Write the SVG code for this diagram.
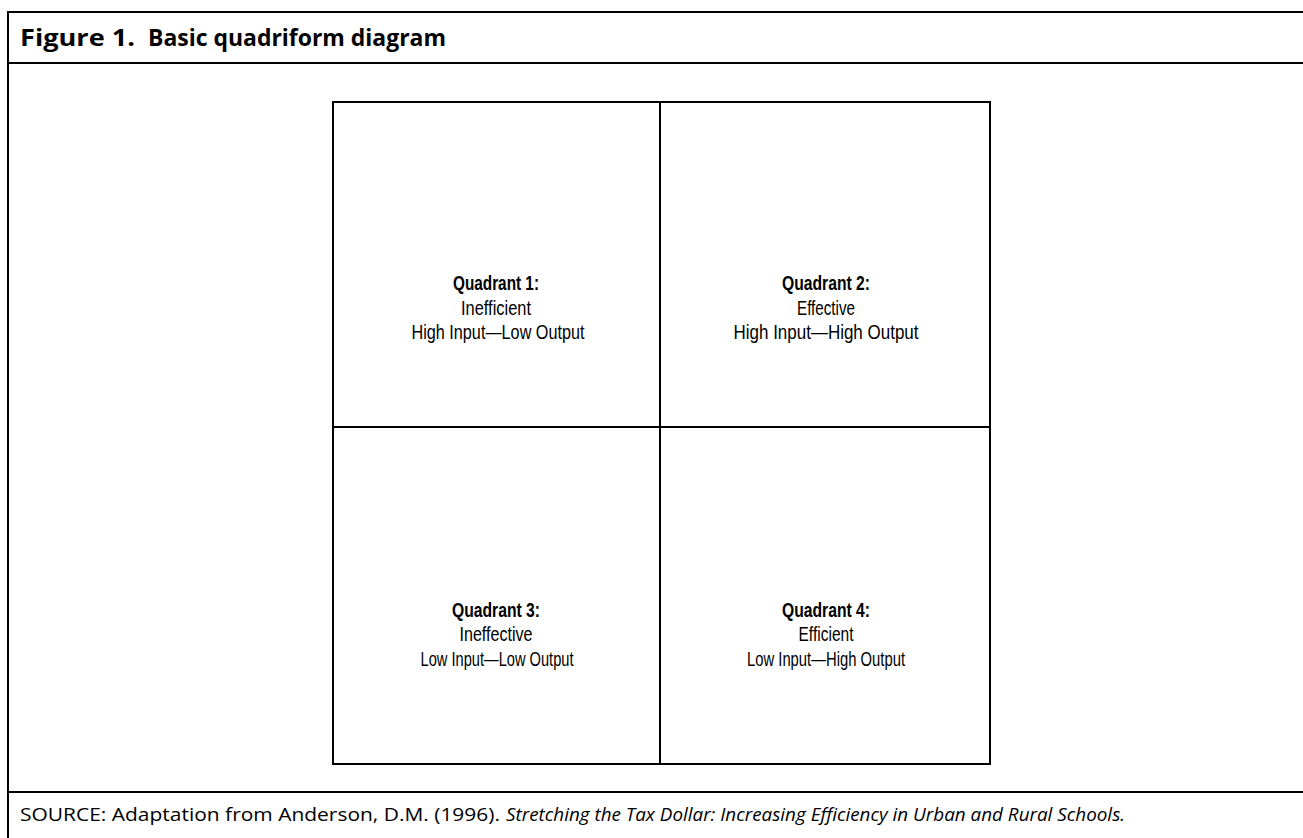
<svg xmlns="http://www.w3.org/2000/svg" width="1303" height="838" viewBox="0 0 1303 838">
<style>
.frame{stroke:#000;stroke-width:2;fill:none}
.grid{stroke:#000;stroke-width:2;fill:none}
.title{font-family:"Open Sans","Liberation Sans",sans-serif;font-weight:bold;font-size:23px;fill:#000}
.src{font-family:"Open Sans","Liberation Sans",sans-serif;font-size:18px;fill:#000}
.qh{font-family:"Liberation Sans",sans-serif;font-weight:bold;font-size:20px;fill:#000;text-anchor:middle}
.qt{font-family:"Liberation Sans",sans-serif;font-size:20px;fill:#000;text-anchor:middle}
</style>
<rect width="1303" height="838" fill="#fff"/>
<g id="frame">
<line class="frame" x1="8" y1="12" x2="1303" y2="12"/>
<line class="frame" x1="8" y1="63" x2="1303" y2="63"/>
<line class="frame" x1="8" y1="792" x2="1303" y2="792"/>
<line class="frame" x1="8" y1="11" x2="8" y2="838"/>
</g>
<g id="title">
<text class="title" x="20" y="46" textLength="115" lengthAdjust="spacingAndGlyphs">Figure 1.</text>
<text class="title" x="148" y="46" textLength="298" lengthAdjust="spacingAndGlyphs">Basic quadriform diagram</text>
</g>
<g id="connectors">
<rect class="grid" x="333" y="102" width="657" height="662"/>
<line class="grid" x1="660" y1="102" x2="660" y2="764"/>
<line class="grid" x1="333" y1="427" x2="990" y2="427"/>
</g>
<g id="q1">
<text class="qh" x="496" y="290" textLength="86" lengthAdjust="spacingAndGlyphs">Quadrant 1:</text>
<text class="qt" x="496" y="315" textLength="70" lengthAdjust="spacingAndGlyphs">Inefficient</text>
<text class="qt" x="498" y="339" textLength="173" lengthAdjust="spacingAndGlyphs">High Input—Low Output</text>
</g>
<g id="q2">
<text class="qh" x="826" y="290" textLength="88" lengthAdjust="spacingAndGlyphs">Quadrant 2:</text>
<text class="qt" x="826" y="315" textLength="58" lengthAdjust="spacingAndGlyphs">Effective</text>
<text class="qt" x="826" y="339" textLength="185" lengthAdjust="spacingAndGlyphs">High Input—High Output</text>
</g>
<g id="q3">
<text class="qh" x="496" y="617" textLength="88" lengthAdjust="spacingAndGlyphs">Quadrant 3:</text>
<text class="qt" x="496" y="641" textLength="73" lengthAdjust="spacingAndGlyphs">Ineffective</text>
<text class="qt" x="497" y="666" textLength="153" lengthAdjust="spacingAndGlyphs">Low Input—Low Output</text>
</g>
<g id="q4">
<text class="qh" x="826" y="617" textLength="88" lengthAdjust="spacingAndGlyphs">Quadrant 4:</text>
<text class="qt" x="826" y="641" textLength="55" lengthAdjust="spacingAndGlyphs">Efficient</text>
<text class="qt" x="826" y="666" textLength="158" lengthAdjust="spacingAndGlyphs">Low Input—High Output</text>
</g>
<g id="source">
<text class="src" x="20" y="821" textLength="480" lengthAdjust="spacingAndGlyphs">SOURCE: Adaptation from Anderson, D.M. (1996).</text>
<text class="src" x="506" y="821" font-style="italic" textLength="619" lengthAdjust="spacingAndGlyphs">Stretching the Tax Dollar: Increasing Efficiency in Urban and Rural Schools.</text>
</g>
</svg>
